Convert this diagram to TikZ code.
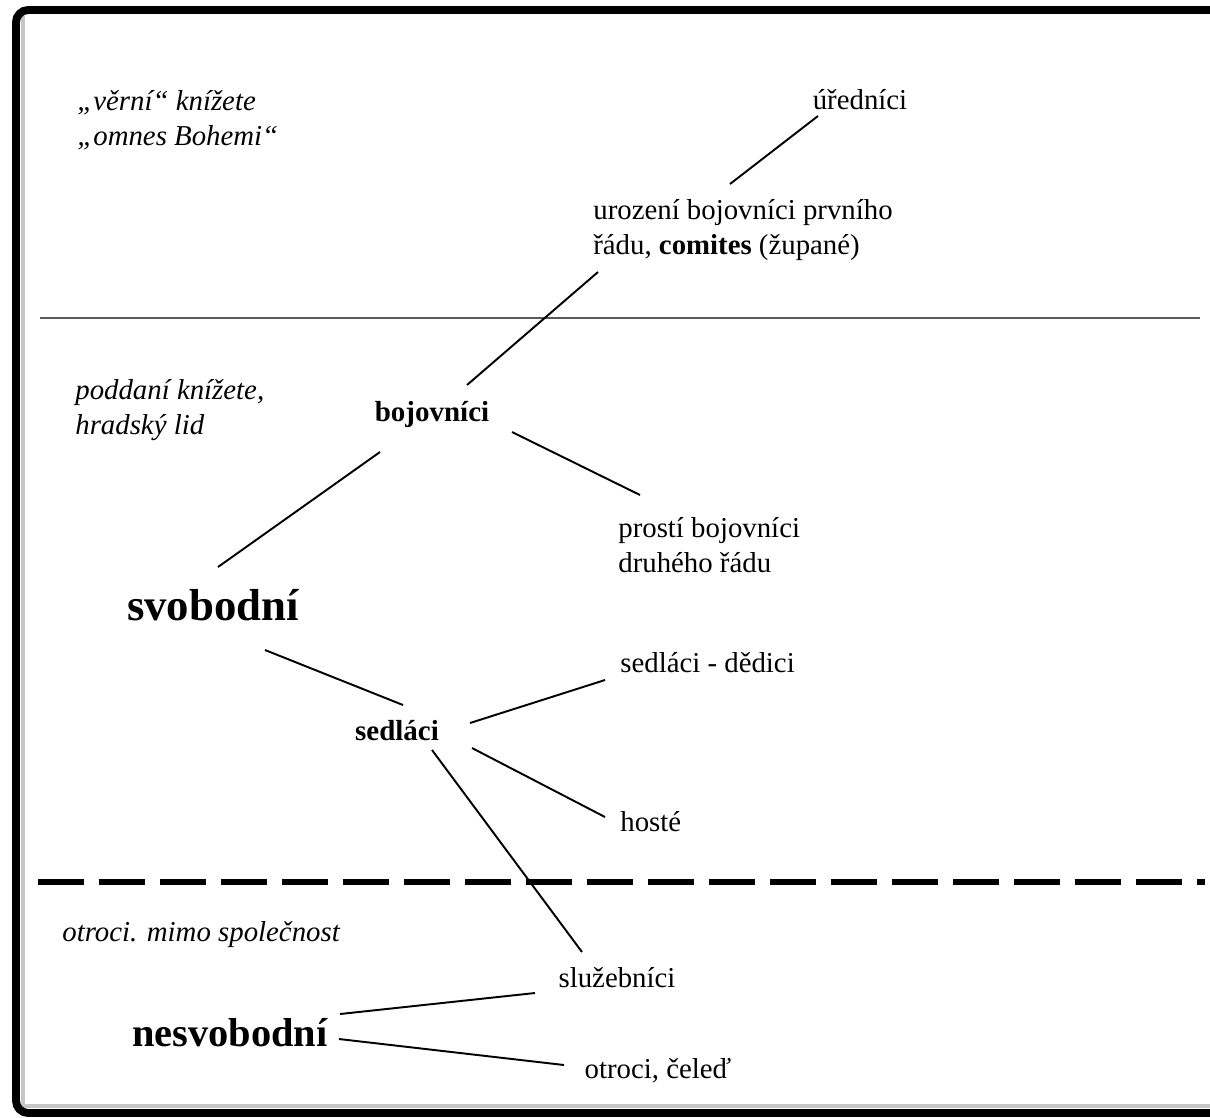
\documentclass[tikz,border=0pt]{standalone}
\usepackage{fontspec}
\setmainfont{Liberation Serif}
\begin{document}
\begin{tikzpicture}[x=0.02cm, y=-0.02cm,
        txt/.style={inner sep=0, align=left, font=\fontsize{16.4}{20}\selectfont},
        lbl/.style={txt, font=\fontsize{16.4}{20}\selectfont\itshape},
        bld/.style={txt, font=\fontsize{16.5}{20}\selectfont\bfseries},
        big/.style={inner sep=0, font=\fontsize{25.5}{30}\selectfont\bfseries},
        link/.style={line width=1.1pt}]
        \useasboundingbox (0,0) rectangle (1210,1117);
        \draw [gray!45, line width=2pt] (23,16) to (23,1106) to (1210,1106);
        \draw [line width=4.5pt, rounded corners=7pt] (1215,10) to (16,10) to (16,1113) to (1215,1113);
        \node [lbl, anchor=west] (verni) at (77,120) {„věrní“ knížete\\„omnes Bohemi“};
        \node [txt] (uredn) at (860,100) {úředníci};
        \node [txt, anchor=west] (urozeni) at (593,230) {urození bojovníci prvního\\řádu, \textbf{comites} (župané)};
        \node [lbl, anchor=west] (poddani) at (75,410) {poddaní knížete,\\hradský lid};
        \node [bld] (bojovnici) at (432,415) {bojovníci};
        \node [txt, anchor=west] (prosti) at (618,545) {prostí bojovníci\\druhého řádu};
        \node [big] (svobodni) at (213,605) {svobodní};
        \node [txt, anchor=west] (dedici) at (620,663) {sedláci - dědici};
        \node [bld] (sedlaci) at (397,731) {sedláci};
        \node [txt, anchor=west] (hoste) at (620,822) {hosté};
        \node [lbl, anchor=west] (otroci) at (62,935) {otroci. mimo společnost};
        \node [txt] (sluzeb) at (617,978) {služebníci};
        \node [big, font=\fontsize{23}{28}\selectfont\bfseries] (nesvobodni) at (230,1033) {nesvobodní};
        \node [txt] (celed) at (658,1071) {otroci, čeleď};
        \draw [line width=1pt, black!65] (40,318) to (1200,318);
        \draw [line width=3pt, dash pattern=on 0.92cm off 0.3cm] (38,882) to (1205,882);
        \draw [link] ([shift={(-42,16)}]uredn.center) to ([shift={(137,-46)}]urozeni.west);
        \draw [link] ([shift={(5,42)}]urozeni.west) to ([shift={(35,-30)}]bojovnici.center);
        \draw [link] ([shift={(-52,37)}]bojovnici.center) to ([shift={(5,-38)}]svobodni.center);
        \draw [link] ([shift={(80,17)}]bojovnici.center) to ([shift={(22,-50)}]prosti.west);
        \draw [link] ([shift={(52,45)}]svobodni.center) to ([shift={(6,-26)}]sedlaci.center);
        \draw [link] ([shift={(73,-8)}]sedlaci.center) to ([shift={(-15,17)}]dedici.west);
        \draw [link] ([shift={(75,17)}]sedlaci.center) to ([shift={(-15,-5)}]hoste.west);
        \draw [link] ([shift={(35,19)}]sedlaci.center) to ([shift={(-35,-26)}]sluzeb.center);
        \draw [link] ([shift={(110,-19)}]nesvobodni.center) to ([shift={(-82,15)}]sluzeb.center);
        \draw [link] ([shift={(109,6)}]nesvobodni.center) to ([shift={(-94,-6)}]celed.center);
\end{tikzpicture}
\end{document}
